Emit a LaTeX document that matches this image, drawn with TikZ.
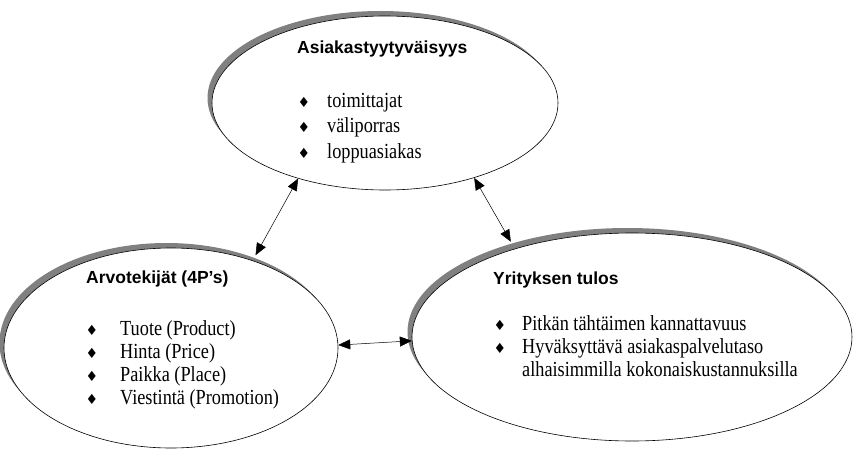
\documentclass[tikz,border=0pt]{standalone}
\usepackage{fontspec}
\setmainfont[FakeStretch=0.85]{Liberation Serif}
\newfontfamily\headfont{Liberation Sans}
\newfontfamily\symfont{DejaVu Sans}
\usetikzlibrary{shapes.geometric,arrows.meta,shadows}
\begin{document}
\begin{tikzpicture}[x=1pt,y=-1pt,
  blob/.style={ellipse, draw=black, line width=0.6pt, fill=white, inner sep=0pt,
    general shadow={shadow xshift=-4.5pt, shadow yshift=5pt, fill=black!50}},
  head/.style={anchor=base west, inner sep=0pt, font=\headfont\bfseries\fontsize{17.5}{20}\selectfont},
  item/.style={anchor=base west, inner sep=0pt, font=\fontsize{21.5}{23}\selectfont},
  dia/.style={anchor=base, inner sep=0pt, font=\symfont\fontsize{14}{16}\selectfont},
  link/.style={line width=0.5pt, {Triangle[length=12pt,width=10pt]}-{Triangle[length=12pt,width=10pt]}}]
\useasboundingbox (0,0) rectangle (854,452);
% ellipses
\node[blob, minimum width=346pt, minimum height=174pt] (top) at (385,103) {};
\node[blob, minimum width=334pt, minimum height=200pt] (left) at (171,348) {};
\node[blob, minimum width=440pt, minimum height=208pt] (right) at (632,337) {};
% top texts
\node[head] (t0) at (297,54) {Asiakastyytyväisyys};
\node[dia] (td1) at (304,107) {♦};
\node[item] (t1) at (327,107) {toimittajat};
\node[dia] (td2) at (304,132) {♦};
\node[item] (t2) at (327,132) {väliporras};
\node[dia] (td3) at (304,158) {♦};
\node[item] (t3) at (327,158) {loppuasiakas};
% left texts
\node[head] (l0) at (86,283) {Arvotekijät (4P’s)};
\node[dia] (ld1) at (92,335) {♦};
\node[item] (l1) at (120,335) {Tuote (Product)};
\node[dia] (ld2) at (92,358) {♦};
\node[item] (l2) at (120,358) {Hinta (Price)};
\node[dia] (ld3) at (92,381) {♦};
\node[item] (l3) at (120,381) {Paikka (Place)};
\node[dia] (ld4) at (92,404) {♦};
\node[item] (l4) at (120,404) {Viestintä (Promotion)};
% right texts
\node[head] (r0) at (493,284) {Yrityksen tulos};
\node[dia] (rd1) at (500,330) {♦};
\node[item] (r1) at (522,330) {Pitkän tähtäimen kannattavuus};
\node[dia] (rd2) at (500,353) {♦};
\node[item] (r2) at (522,353) {Hyväksyttävä asiakaspalvelutaso};
\node[item] (r3) at (522,376) {alhaisimmilla kokonaiskustannuksilla};
% connectors
\draw[link, shorten >=6pt] (top.221) -- (left.47);
\draw[link, shorten >=8pt] (top.320) -- (right.143);
\draw[link] (left.1.7) -- (right.181.8);
\end{tikzpicture}
\end{document}
